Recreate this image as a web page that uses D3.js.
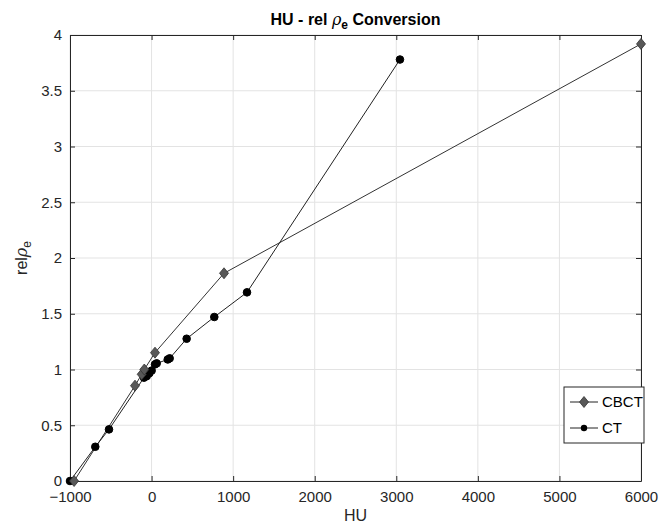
<!DOCTYPE html>
<html>
<head>
<meta charset="utf-8">
<script src="https://cdn.jsdelivr.net/npm/d3@7"></script>
<style>
  body { margin: 0; background: #fff; }
  svg { font-family: "Liberation Sans", Arial, sans-serif; }
</style>
</head>
<body>
<svg></svg>
<script>
// chart data
const cbctHU = [-950, -203, -121, -89, 42, 888, 6000];
const cbctRho = [0, 0.855, 0.957, 1.0, 1.151, 1.863, 3.92];
const ctHU = [-1000, -690, -522, -93, -60, -28, 1, 42, 63, 198, 222, 430, 769, 1170, 3045];
const ctRho = [0, 0.307, 0.463, 0.927, 0.94, 0.966, 0.99, 1.046, 1.055, 1.09, 1.10, 1.276, 1.471, 1.692, 3.78];
const xTicks = [-1000, 0, 1000, 2000, 3000, 4000, 5000, 6000];
const yTicks = [0, 0.5, 1, 1.5, 2, 2.5, 3, 3.5, 4];
const seriesNames = ["CBCT", "CT"];

const svgWidth = 672;
const svgHeight = 526;
const margin = { top: 35, right: 31, bottom: 45, left: 70 };

const svg = d3.select("svg")
    .attr("width", svgWidth)
    .attr("height", svgHeight);

const x = d3.scaleLinear().domain([-1000, 6000]).range([margin.left, svgWidth - margin.right]);
const y = d3.scaleLinear().domain([0, 4]).range([svgHeight - margin.bottom, margin.top]);

const x0 = margin.left, x1 = svgWidth - margin.right;
const y0 = svgHeight - margin.bottom, y1 = margin.top;

// grid
svg.append("g").selectAll("line").data(xTicks).enter().append("line")
    .attr("x1", d => x(d)).attr("x2", d => x(d))
    .attr("y1", y0).attr("y2", y1)
    .attr("stroke", "#e3e3e3").attr("stroke-width", 1);
svg.append("g").selectAll("line").data(yTicks).enter().append("line")
    .attr("x1", x0).attr("x2", x1)
    .attr("y1", d => y(d)).attr("y2", d => y(d))
    .attr("stroke", "#e3e3e3").attr("stroke-width", 1);

// axes (ticks point inward, box on)
const tickLen = 5;
svg.append("g")
    .attr("transform", `translate(0,${y0})`)
    .call(d3.axisBottom(x).tickValues(xTicks).tickSizeInner(-tickLen).tickSizeOuter(0).tickPadding(10).tickFormat(d3.format("d")));
svg.append("g")
    .attr("transform", `translate(${x0},0)`)
    .call(d3.axisLeft(y).tickValues(yTicks).tickSizeInner(-tickLen).tickSizeOuter(0).tickPadding(8).tickFormat(d3.format("")));
svg.append("g")
    .attr("transform", `translate(0,${y1})`)
    .call(d3.axisTop(x).tickValues(xTicks).tickSizeInner(-tickLen).tickSizeOuter(0).tickFormat(""));
svg.append("g")
    .attr("transform", `translate(${x1},0)`)
    .call(d3.axisRight(y).tickValues(yTicks).tickSizeInner(-tickLen).tickSizeOuter(0).tickFormat(""));

svg.selectAll(".domain").attr("stroke", "#262626");
svg.selectAll(".tick line").attr("stroke", "#262626");
svg.selectAll(".tick text").attr("fill", "#262626").style("font-size", "15px")
    .style("font-family", "Liberation Sans, Arial, sans-serif");

// lines
const cbct = cbctHU.map((h, i) => [h, cbctRho[i]]);
const ct = ctHU.map((h, i) => [h, ctRho[i]]);
const line = d3.line().x(d => x(d[0])).y(d => y(d[1]));

svg.append("path").datum(cbct).attr("d", line)
    .attr("fill", "none").attr("stroke", "#333").attr("stroke-width", 1);
svg.append("path").datum(ct).attr("d", line)
    .attr("fill", "none").attr("stroke", "#222").attr("stroke-width", 1);

// MATLAB-style diamond: a bit taller than wide
const diamond = "M0,-5.5L4.5,0L0,5.5L-4.5,0Z";

svg.append("g").selectAll("circle").data(ct).enter().append("circle")
    .attr("cx", d => x(d[0])).attr("cy", d => y(d[1])).attr("r", 3.8)
    .attr("fill", "#000").attr("stroke", "#000");

svg.append("g").selectAll("path").data(cbct).enter().append("path")
    .attr("d", diamond)
    .attr("transform", d => `translate(${x(d[0])},${y(d[1])})`)
    .attr("fill", "#585858").attr("stroke", "#333").attr("stroke-width", 0.8);

// title and labels
const title = svg.append("text")
    .attr("x", (x0 + x1) / 2).attr("y", 25)
    .attr("text-anchor", "middle")
    .style("font-size", "16px").style("font-weight", "bold").attr("fill", "#000");
title.append("tspan").text("HU - rel ");
title.append("tspan").style("font-family", "DejaVu Serif, serif").style("font-style", "italic").style("font-weight", "normal").text("ρ");
title.append("tspan").attr("dy", 4).style("font-size", "12px").text("e");
title.append("tspan").attr("dy", -4).text(" Conversion");

svg.append("text")
    .attr("x", (x0 + x1) / 2).attr("y", 521)
    .attr("text-anchor", "middle")
    .style("font-size", "16px").attr("fill", "#262626")
    .text("HU");

const ylab = svg.append("text")
    .attr("transform", `translate(27,${(y0 + y1) / 2}) rotate(-90)`)
    .attr("text-anchor", "middle")
    .style("font-size", "16px").attr("fill", "#262626");
ylab.append("tspan").text("rel");
ylab.append("tspan").style("font-family", "DejaVu Serif, serif").style("font-style", "italic").text("ρ");
ylab.append("tspan").attr("dy", 4).style("font-size", "12px").text("e");

// legend
const lg = svg.append("g").attr("transform", "translate(564,387)");
lg.append("rect").attr("width", 80).attr("height", 56)
    .attr("fill", "#fff").attr("stroke", "#262626").attr("stroke-width", 1);
seriesNames.forEach((name, i) => {
    const ly = 15 + i * 26;
    lg.append("line").attr("x1", 6).attr("x2", 34).attr("y1", ly).attr("y2", ly)
        .attr("stroke", "#222");
    if (i === 0) {
        lg.append("path").attr("d", diamond).attr("transform", `translate(20,${ly})`)
            .attr("fill", "#585858").attr("stroke", "#333").attr("stroke-width", 0.8);
    } else {
        lg.append("circle").attr("cx", 20).attr("cy", ly).attr("r", 3.2).attr("fill", "#000");
    }
    lg.append("text").attr("x", 38).attr("y", ly + 5)
        .style("font-size", "15px").attr("fill", "#000").text(name);
});
</script>
</body>
</html>
